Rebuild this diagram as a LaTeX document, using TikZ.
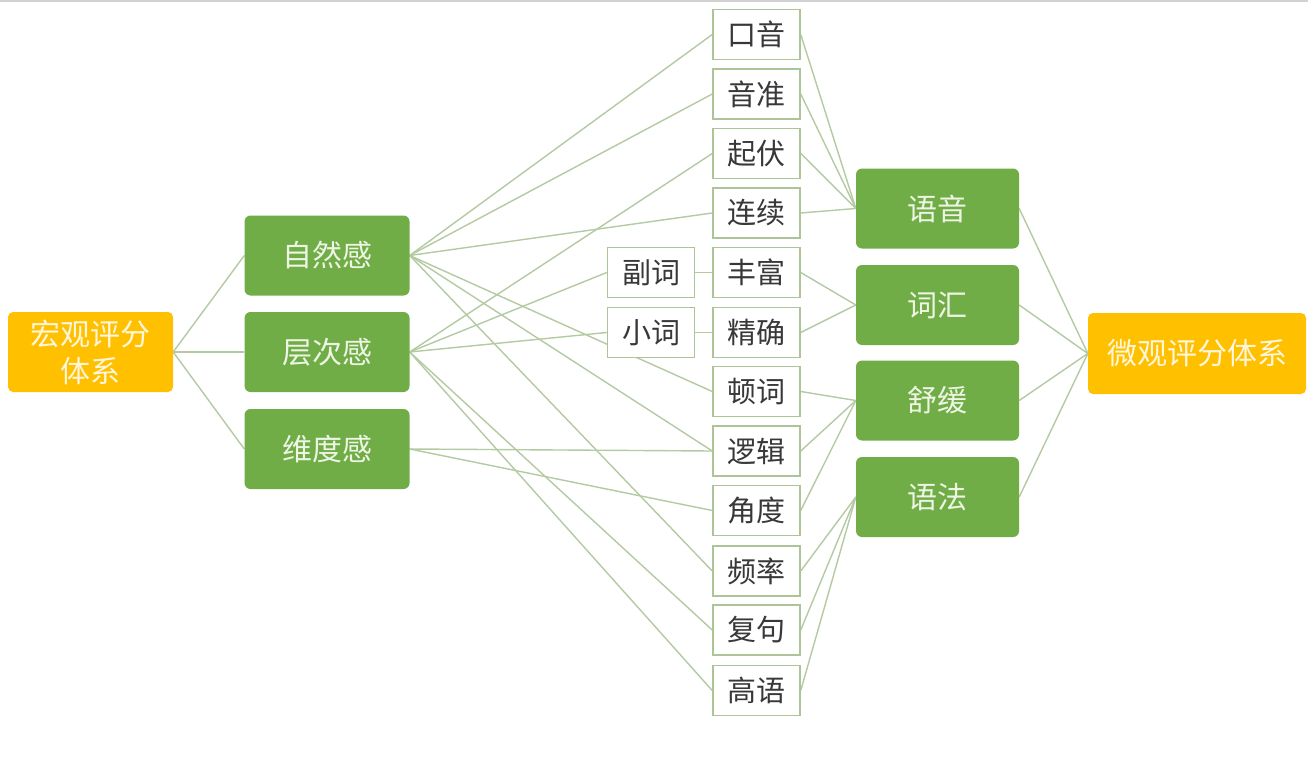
\documentclass[tikz,border=0pt]{standalone}
\usepackage{fontspec}
\newfontfamily\cjk{Noto Sans CJK SC}
\usetikzlibrary{backgrounds}
\definecolor{gfill}{HTML}{70AD47}
\definecolor{yfill}{HTML}{FFC000}
\definecolor{conn}{RGB}{180,202,162}
\definecolor{mbord}{RGB}{172,196,152}
\definecolor{ltxt}{RGB}{238,245,228}
\definecolor{ytxt}{RGB}{255,246,220}
\tikzset{
  yellowbox/.style={fill=yfill, rounded corners=5pt, minimum width=165pt, minimum height=80pt,
    text=ytxt, font=\cjk\fontsize{30}{37}\selectfont, align=center, inner sep=0pt},
  greenbox/.style={fill=gfill, rounded corners=6pt, minimum width=165pt, minimum height=80pt,
    text=ltxt, font=\cjk\fontsize{30}{36}\selectfont, inner sep=0pt},
  itembox/.style={draw=mbord, line width=1.5pt, fill=white, minimum width=87pt, minimum height=50pt,
    text=black!78, font=\cjk\fontsize{29}{34}\selectfont, inner sep=0pt},
  link/.style={draw=conn, line width=1.4pt},
}
\begin{document}
\begin{tikzpicture}[x=1pt,y=-1pt]
\useasboundingbox (0,0) rectangle (1308,781);
\begin{scope}[on background layer]
  \fill[white] (0,0) rectangle (1308,781);
\end{scope}
\draw[gray!35, line width=2pt] (0,1.5) -- (1308,1.5);

% left
\node[yellowbox] (macro) at (90.5,352) {宏观评分\\体系};
\node[greenbox] (zrg) at (327,255.5) {自然感};
\node[greenbox] (ccg) at (327,352) {层次感};
\node[greenbox] (wdg) at (327,449) {维度感};

% middle
\node[itembox] (ky) at (756.5,34.5) {口音};
\node[itembox] (yz) at (756.5,94) {音准};
\node[itembox] (qf) at (756.5,153.5) {起伏};
\node[itembox] (lx) at (756.5,213) {连续};
\node[itembox] (ff) at (756.5,272.5) {丰富};
\node[itembox] (jq) at (756.5,332.5) {精确};
\node[itembox] (dc) at (756.5,391.5) {顿词};
\node[itembox] (lj) at (756.5,451) {逻辑};
\node[itembox] (jd) at (756.5,510.5) {角度};
\node[itembox] (pl) at (756.5,571) {频率};
\node[itembox] (fj) at (756.5,630) {复句};
\node[itembox] (gy) at (756.5,690.5) {高语};
\node[itembox] (fc) at (651,272.5) {副词};
\node[itembox] (xc) at (651,332.5) {小词};

% right
\node[greenbox, minimum width=163pt] (yy) at (937.5,208.5) {语音};
\node[greenbox, minimum width=163pt] (ch) at (937.5,305) {词汇};
\node[greenbox, minimum width=163pt] (sh) at (937.5,400.5) {舒缓};
\node[greenbox, minimum width=163pt] (yf) at (937.5,497) {语法};
\node[yellowbox, minimum width=218pt, minimum height=81pt] (micro) at (1197,353.5) {微观评分体系};

\begin{scope}[on background layer]
  \foreach \t in {zrg,ccg,wdg} \draw[link] (macro.east) -- (\t.west);
  \foreach \t in {ky,yz,lx,dc,lj,pl} \draw[link] (zrg.east) -- (\t.west);
  \foreach \t in {qf,fc,xc,fj,gy} \draw[link] (ccg.east) -- (\t.west);
  \foreach \t in {lj,jd} \draw[link] (wdg.east) -- (\t.west);
  \draw[link] (fc.east) -- (ff.west);
  \draw[link] (xc.east) -- (jq.west);
  \foreach \s in {ky,yz,qf,lx} \draw[link] (\s.east) -- (yy.west);
  \foreach \s in {ff,jq} \draw[link] (\s.east) -- (ch.west);
  \foreach \s in {dc,lj,jd} \draw[link] (\s.east) -- (sh.west);
  \foreach \s in {pl,fj,gy} \draw[link] (\s.east) -- (yf.west);
  \foreach \s in {yy,ch,sh,yf} \draw[link] (\s.east) -- (micro.west);
\end{scope}
\end{tikzpicture}
\end{document}
